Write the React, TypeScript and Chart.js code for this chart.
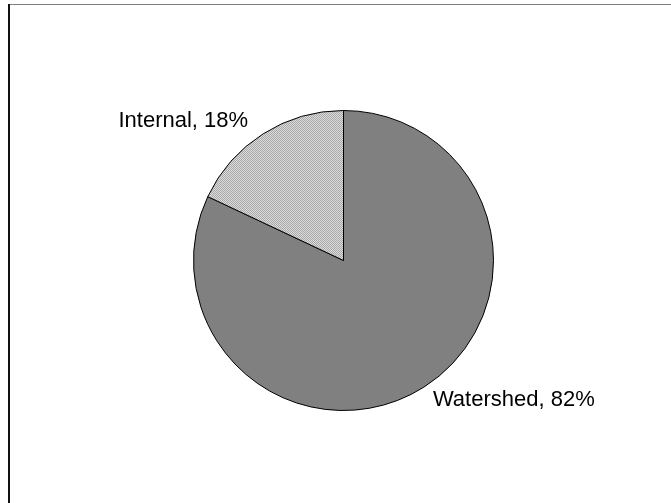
import React, { useEffect, useRef } from "react";
import { Chart, registerables } from "chart.js";

Chart.register(...registerables);

const categories = ["Watershed", "Internal"];
const values = [82, 18];
const labelTexts = ["Watershed, 82%", "Internal, 18%"];

function makePattern(ctx: CanvasRenderingContext2D): CanvasPattern | string {
  const c = document.createElement("canvas");
  c.width = 2;
  c.height = 2;
  const p = c.getContext("2d");
  if (!p) return "#c8c8c8";
  p.fillStyle = "#dcdcdc";
  p.fillRect(0, 0, 2, 2);
  p.fillStyle = "#a8a8a8";
  p.fillRect(0, 0, 1, 1);
  p.fillRect(1, 1, 1, 1);
  return ctx.createPattern(c, "repeat") || "#c8c8c8";
}

const framePlugin = {
  id: "frame",
  beforeDraw(chart: any) {
    const ctx = chart.ctx as CanvasRenderingContext2D;
    ctx.save();
    ctx.fillStyle = "#ffffff";
    ctx.fillRect(0, 0, chart.width, chart.height);
    ctx.fillStyle = "#808080";
    ctx.fillRect(8, 4, chart.width - 8, 1);
    ctx.fillStyle = "#111111";
    ctx.fillRect(8, 4, 2, chart.height - 4);
    ctx.restore();
  },
};

const labelPlugin = {
  id: "pieLabels",
  afterDatasetsDraw(chart: any) {
    const ctx = chart.ctx as CanvasRenderingContext2D;
    const meta = chart.getDatasetMeta(0);
    ctx.save();
    ctx.font = "22px 'Liberation Sans', Arial, sans-serif";
    ctx.fillStyle = "#000000";
    ctx.textBaseline = "middle";
    meta.data.forEach((arc: any, i: number) => {
      const mid = (arc.startAngle + arc.endAngle) / 2;
      const r = arc.outerRadius * 1.1;
      const x = arc.x + Math.cos(mid) * r;
      const y = arc.y + Math.sin(mid) * r;
      const right = x >= arc.x;
      ctx.textAlign = right ? "left" : "right";
      ctx.fillText(labelTexts[i], right ? x + 1 : x - 7, y);
    });
    ctx.restore();
  },
};

export default function App() {
  const ref = useRef<HTMLCanvasElement | null>(null);
  useEffect(() => {
    const canvas = ref.current;
    if (!canvas) return;
    const ctx = canvas.getContext("2d")!;
    const chart = new Chart(canvas, {
      type: "pie",
      data: {
        labels: categories,
        datasets: [
          {
            data: values,
            backgroundColor: ["#808080", makePattern(ctx)],
            borderColor: "#000000",
            borderWidth: 1,
          },
        ],
      },
      options: {
        animation: false,
        responsive: false,
        layout: { padding: { left: 193, right: 177, top: 110, bottom: 92 } },
        plugins: {
          legend: { display: false },
          tooltip: { enabled: false },
        },
      },
      plugins: [framePlugin, labelPlugin],
    });
    return () => chart.destroy();
  }, []);
  return (
    <div style={{ position: "absolute", left: 0, top: 0, width: 671, height: 503 }}>
      <canvas ref={ref} width={671} height={503} style={{ display: "block", width: 671, height: 503 }} />
    </div>
  );
}
